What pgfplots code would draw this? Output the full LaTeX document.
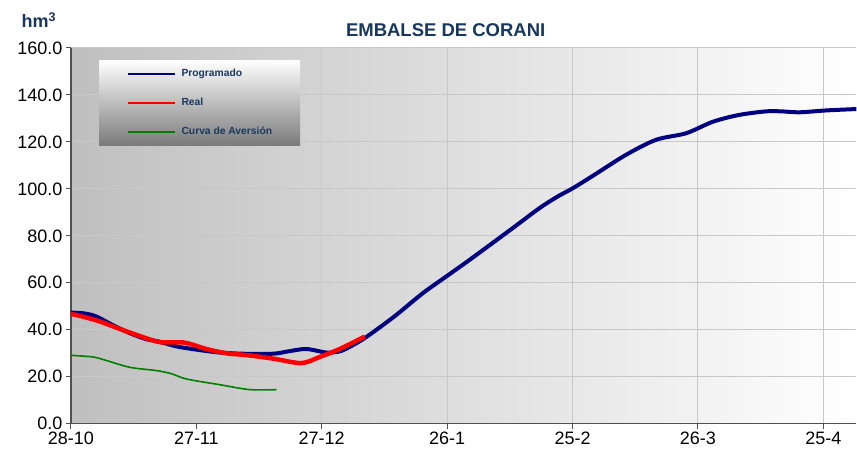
\documentclass[border=0pt]{standalone}
\usepackage{pgfplots}
\pgfplotsset{compat=1.18}
\usepackage{fontspec}
\setmainfont{Liberation Sans}
\definecolor{ttl}{RGB}{23,55,94}
\definecolor{navyc}{RGB}{0,0,128}
\definecolor{grn}{RGB}{0,128,0}
\definecolor{gridc}{RGB}{200,200,200}
\definecolor{axc}{RGB}{80,80,80}
\begin{document}
\begin{tikzpicture}
\path (-71pt,-32pt) rectangle (786pt,424pt);
\begin{axis}[
  scale only axis, width=786pt, height=376pt,
  at={(0pt,0pt)}, anchor=origin,
  xmin=0, xmax=187.9, ymin=0, ymax=160,
  xtick={0,30,60,90,120,150,180},
  xticklabels={28-10,27-11,27-12,26-1,25-2,26-3,25-4},
  ytick={0,20,...,160},
  yticklabel={\pgfmathprintnumber[fixed,fixed zerofill,precision=1]{\tick}},
  /pgf/number format/assume math mode=true,
  ticklabel style={font=\fontsize{18}{20}\selectfont, text=black},
  axis x line*=bottom, axis y line*=left,
  axis line style={axc, line width=1.3pt, -},
  tick style={axc, line width=1pt},
  tick align=outside, major tick length=5pt,
  grid=major, major grid style={gridc, line width=1pt},
  axis background/.style={left color=black!25, right color=white},
  clip=true,
  legend style={at={(0.0356,0.968)}, anchor=north west,
    top color=white, bottom color=black!52, draw=none,
    inner xsep=28pt, inner ysep=9pt, row sep=19.5pt, column sep=5pt,
    font=\fontsize{10.3}{10}\selectfont\bfseries, text=ttl,
    nodes={inner sep=0pt, text height=7.5pt, text depth=2pt}},
  legend cell align=left,
]
\addplot[navyc, line width=4pt, smooth, tension=0.5,
  legend image code/.code={\draw[navyc, line width=2.5pt] (0pt,0pt) -- (47pt,0pt);}]
coordinates {
(0,47.3) (3,47.0) (6,45.7) (10,42.0) (14,38.6) (18,36.0) (21,35.0) (25,33.0)
(29,31.8) (35,30.4) (41,29.8) (48.4,29.8) (52,30.8) (56.3,31.8) (61.1,30.3)
(64.3,30.8) (67,33.0) (69.9,36.0) (73.1,40.0) (77.9,46.4) (84.2,55.6) (89.8,62.7)
(95.4,69.8) (105.7,83.3) (112.1,91.8) (116.5,96.8) (120.1,100.3) (124.9,105.6)
(132.8,114.5) (140,120.9) (147.2,123.7) (153.6,128.6) (159.9,131.5) (166.3,133.0)
(170,133.0) (174.3,132.6) (180.7,133.4) (188,134.0)};
\addlegendentry{Programado}
\addplot[red, line width=4.5pt, smooth, tension=0.5,
  legend image code/.code={\draw[red, line width=2.5pt] (0pt,0pt) -- (47pt,0pt);}]
coordinates {
(0,46.8) (6.1,44.0) (13.3,39.3) (20.5,35.0) (23.7,34.6) (26.8,34.6) (29.2,33.6)
(32,32.0) (34.8,30.8) (38,29.8) (42,29.2) (48.4,27.7) (55.1,25.8) (59.5,28.4)
(64.3,31.8) (70.3,37.1)};
\addlegendentry{Real}
\addplot[grn, line width=1.6pt, smooth, tension=0.5,
  legend image code/.code={\draw[grn, line width=2.5pt] (0pt,0pt) -- (47pt,0pt);}]
coordinates {
(0,29.1) (5.3,28.4) (8.5,26.9) (14.1,24.0) (20.5,22.6) (24,21.3) (27.7,19.0)
(35.6,16.6) (42.8,14.5) (49.2,14.5)};
\addlegendentry{Curva de Aversión}
\end{axis}
\node[font=\fontsize{18.5}{20}\selectfont\bfseries, text=ttl] at (375pt,394pt) {EMBALSE DE CORANI};
\node[font=\fontsize{18}{20}\selectfont\bfseries, text=ttl] at (-32pt,404pt) {hm\textsuperscript{3}};
\end{tikzpicture}
\end{document}
